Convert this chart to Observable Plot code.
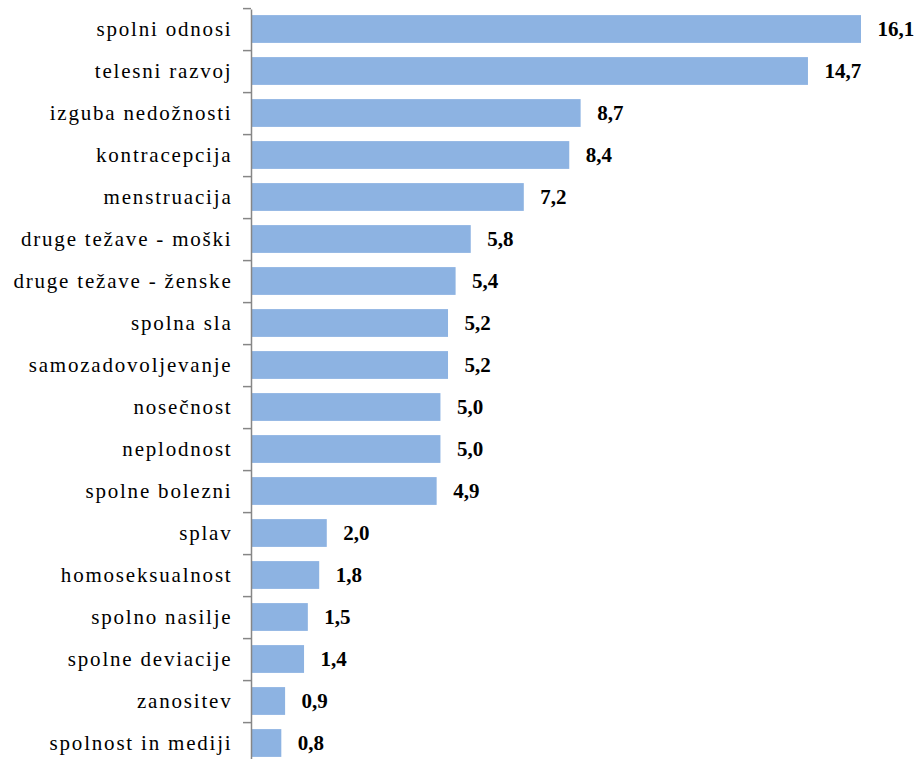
<!DOCTYPE html>
<html>
<head>
<meta charset="utf-8">
<script src="https://cdn.jsdelivr.net/npm/d3@7"></script>
<script src="https://cdn.jsdelivr.net/npm/@observablehq/plot@0.6"></script>
<style>
  html, body { margin: 0; padding: 0; background: #fff; overflow: hidden; }
  #chart svg { display: block; }
</style>
</head>
<body>
<div id="chart"></div>
<script>
const categories = [
  "spolni odnosi", "telesni razvoj", "izguba nedožnosti", "kontracepcija",
  "menstruacija", "druge težave - moški", "druge težave - ženske", "spolna sla",
  "samozadovoljevanje", "nosečnost", "neplodnost", "spolne bolezni",
  "splav", "homoseksualnost", "spolno nasilje", "spolne deviacije",
  "zanositev", "spolnost in mediji"
];
const values = [16.1, 14.7, 8.7, 8.4, 7.2, 5.8, 5.4, 5.2, 5.2, 5.0, 5.0, 4.9, 2.0, 1.8, 1.5, 1.4, 0.9, 0.8];
const data = categories.map((name, i) => ({name, value: values[i]}));

const font = "Liberation Serif";
const target0 = 9.5, target1 = 762;
const step = (target1 - target0) / categories.length;
const inset = step * 0.17;

function build(r0, r1) {
  const marginTop = Math.max(0, Math.round(r0 * 100) / 100);
  const height = Math.ceil(r1) + 6;
  const marginBottom = height - r1;
  return Plot.plot({
    width: 924, height, marginLeft: 251, marginRight: 63, marginTop, marginBottom,
    style: {fontFamily: font, fontSize: "21px", color: "#000", background: "#fff"},
    x: {domain: [0, 16.1], axis: null},
    y: {domain: categories, padding: 0, axis: null},
    marks: [
      Plot.barX(data, {x: "value", y: "name", fill: "#8DB3E2", insetTop: inset, insetBottom: inset}),
      Plot.ruleX([0], {stroke: "#868686", strokeWidth: 1.5, insetTop: Math.max(0, target0 - marginTop)}),
      Plot.ruleY(categories, {y: d => d, x1: 0, x2: 0, insetLeft: -8, dy: -step / 2, stroke: "#868686", strokeWidth: 1.5}),
      Plot.axisY({tickSize: 0, tickPadding: 19, fontSize: 21, fontFamily: font, label: null}),
      Plot.text(data, {x: "value", y: "name", text: d => d.value.toFixed(1).replace(".", ","), dx: 16, textAnchor: "start", fontWeight: "bold", fontSize: 21, fontFamily: font, fill: "#000"})
    ]
  });
}

function measure(svg) {
  const rs = [...svg.querySelectorAll("rect")].filter(r => r.getAttribute("y") !== null);
  const y0 = +rs[0].getAttribute("y") - inset;
  const y1 = +rs[1].getAttribute("y") - inset;
  const s = y1 - y0;
  return [y0, y0 + s * categories.length];
}

let r0 = target0, r1 = target1, chart;
for (let k = 0; k < 3; k++) {
  chart = build(r0, r1);
  const [a0, a1] = measure(chart);
  r0 -= a0 - target0;
  r1 += target1 - a1;
}
chart = build(r0, r1);

const holder = document.getElementById("chart");
holder.innerHTML = chart.outerHTML;
const svg = holder.querySelector("svg");
svg.querySelectorAll("style").forEach(s => s.remove());
svg.removeAttribute("class");
svg.setAttribute("font-family", font);

// rebuild each text node plainly so the serif font is used
const NS = "http://www.w3.org/2000/svg";
svg.querySelectorAll("text").forEach(t => {
  const g = t.closest("g[aria-label]");
  const isAxis = g && g.getAttribute("aria-label") === "y-axis tick label";
  const n = document.createElementNS(NS, "text");
  for (const a of ["x", "y", "dx", "dy", "transform"]) if (t.hasAttribute(a)) n.setAttribute(a, t.getAttribute(a));
  n.setAttribute("font-family", font);
  n.setAttribute("font-size", "21");
  n.setAttribute("fill", "#000");
  n.setAttribute("text-anchor", isAxis ? "end" : "start");
  if (!isAxis) n.setAttribute("font-weight", "bold");
  else n.setAttribute("letter-spacing", "1.8");
  n.textContent = t.textContent;
  t.replaceWith(n);
});
</script>
</body>
</html>
